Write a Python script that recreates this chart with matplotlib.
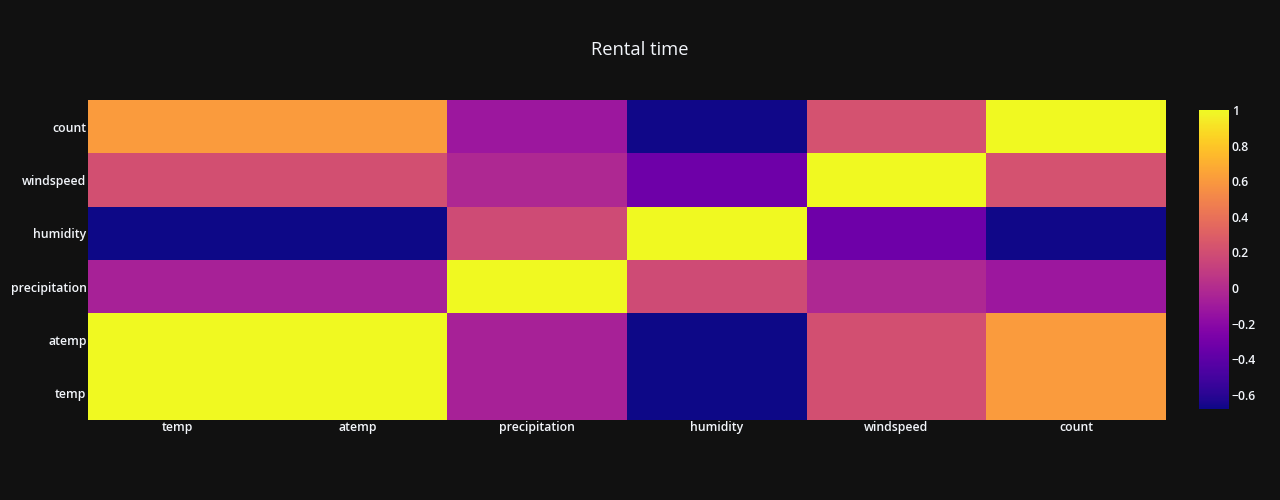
import numpy as np
import matplotlib.pyplot as plt

plt.rcParams['font.family'] = ['Open Sans', 'DejaVu Sans']

labels = ['temp', 'atemp', 'precipitation', 'humidity', 'windspeed', 'count']

# correlation matrix (row = y label, col = x label)
corr = [
    [1.00, 1.00, -0.06, -0.68, 0.21, 0.61],
    [1.00, 1.00, -0.06, -0.68, 0.21, 0.61],
    [-0.06, -0.06, 1.00, 0.18, -0.02, -0.12],
    [-0.68, -0.68, 0.18, 1.00, -0.33, -0.67],
    [0.21, 0.21, -0.02, -0.33, 1.00, 0.22],
    [0.61, 0.61, -0.12, -0.67, 0.22, 1.00],
]
z = np.array(corr)

bg = '#111111'
fg = '#f2f5fa'

fig = plt.figure(figsize=(12.8, 5), dpi=100, facecolor=bg)
ax = fig.add_axes([88 / 1280, 1 - 420 / 500, (1166 - 88) / 1280, 320 / 500])
ax.set_facecolor(bg)

mesh = ax.pcolormesh(z, cmap='plasma', vmin=z.min(), vmax=z.max())
ax.set_xticks(np.arange(len(labels)) + 0.5)
ax.set_xticklabels(labels)
ax.set_yticks(np.arange(len(labels)) + 0.5)
ax.set_yticklabels(labels)
ax.tick_params(length=0, colors=fg, labelsize=8.8)
ax.tick_params(axis='x', pad=1)
ax.tick_params(axis='y', pad=1)
for t in ax.get_xticklabels() + ax.get_yticklabels():
    t.set_fontweight('semibold')
for s in ax.spines.values():
    s.set_visible(False)

cax = fig.add_axes([1199 / 1280, 1 - 409 / 500, 30 / 1280, 299 / 500])
cb = fig.colorbar(mesh, cax=cax)
cb.outline.set_visible(False)
cb.set_ticks([1, 0.8, 0.6, 0.4, 0.2, 0, -0.2, -0.4, -0.6])
cb.set_ticklabels(['1', '0.8', '0.6', '0.4', '0.2', '0', '\u22120.2', '\u22120.4', '\u22120.6'])
cax.tick_params(length=0, colors=fg, labelsize=8.8, pad=2)
for t in cax.get_yticklabels():
    t.set_fontweight('semibold')

fig.text(0.5, 1 - 50 / 500, 'Rental time', color=fg, fontsize=13.2,
         ha='center', va='center')

fig.savefig('out.png', facecolor=bg)
